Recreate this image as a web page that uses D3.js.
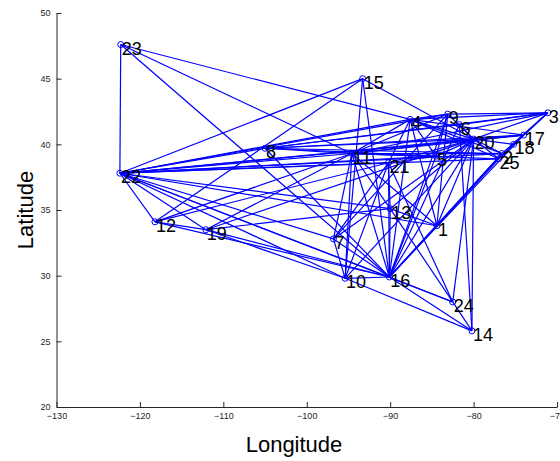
<!DOCTYPE html>
<html>
<head>
<meta charset="utf-8">
<script src="https://cdn.jsdelivr.net/npm/d3@7"></script>
<style>
  body { margin: 0; background: #ffffff; }
  svg { display: block; }
  text { font-family: "Liberation Sans", Arial, sans-serif; }
</style>
</head>
<body>
<svg id="chart" width="560" height="461"></svg>
<script>
// City nodes: label, longitude, latitude
const nodeLabels = ["1","2","3","4","5","6","7","8","9","10","11","12","13",
                    "14","15","16","17","18","19","20","21","22","23","24","25"];
const nodeLon = [-84.4, -76.6, -71.1, -87.6, -84.5, -81.7, -96.8, -105.0, -83.1, -95.4,
                 -94.6, -118.2, -90.0, -80.2, -93.3, -90.1, -74.0, -75.2, -112.1, -80.0,
                 -90.2, -122.4, -122.3, -82.5, -77.0];
const nodeLat = [33.8, 39.3, 42.4, 41.9, 39.1, 41.5, 32.8, 39.7, 42.3, 29.8,
                 39.3, 34.1, 35.1, 25.8, 45.0, 29.9, 40.7, 40.0, 33.5, 40.4,
                 38.6, 37.8, 47.6, 28.0, 38.9];

// Links between cities (1-based node numbers)
const edgeFrom = [23,23,23,23,
  22,22,22,22,22,22,22,22,22,22,22,22,22,22,22,22,22,22,22,
  12,12,12,12,12,
  19,19,19,19,19,
  8,8,8,8,8,8,8,8,
  15,15,15,
  11,11,11,11,11,11,11,11,11,11,11,11,11,
  7,7,7,7,7,
  10,10,10,10,
  16,16,16,16,16,16,16,16,16,16,16,16,16,
  13,13,13,13,
  1,1,1,1,1,
  24,24,24,
  14,14,
  4,4,4,4,4,4,4,4,
  9,9,9,
  6,6,
  20,20,20,20,20,20,20,
  17,17,2,21,18,3,3];
const edgeTo = [22,4,11,16,
  12,19,15,8,11,21,5,4,9,20,17,2,25,13,1,7,16,10,24,
  19,15,11,21,16,
  11,20,16,10,13,
  20,17,3,6,2,11,16,5,
  16,10,20,
  20,17,3,2,25,5,9,4,16,10,7,13,1,
  20,21,16,10,9,
  16,14,20,21,
  20,2,25,17,24,14,1,13,21,4,9,5,6,
  20,1,21,24,
  20,25,2,4,9,
  20,21,14,
  20,6,
  20,17,3,9,2,25,21,5,
  20,3,5,
  20,3,
  17,3,18,2,25,21,5,
  3,18,25,5,25,25,2];

const xTicks = [-130, -120, -110, -100, -90, -80, -70];
const yTicks = [20, 25, 30, 35, 40, 45, 50];

const blue = "#0000ff";
const axisColor = "#262626";

const svg = d3.select("#chart");

const x = d3.scaleLinear().domain([-130, -70]).range([56.5, 557]);
const y = d3.scaleLinear().domain([20, 50]).range([407, 13]);

const nodes = nodeLabels.map((label, i) => ({ label, lon: nodeLon[i], lat: nodeLat[i] }));
const links = edgeFrom.map((a, i) => ({ source: nodes[a - 1], target: nodes[edgeTo[i] - 1] }));

// Axes (left and bottom only, ticks pointing inward)
const xAxis = d3.axisBottom(x).tickValues(xTicks).tickFormat(d3.format("d"))
  .tickSizeInner(-5).tickSizeOuter(0).tickPadding(6);
const yAxis = d3.axisLeft(y).tickValues(yTicks).tickFormat(d3.format("d"))
  .tickSizeInner(-5).tickSizeOuter(0).tickPadding(6);

const gx = svg.append("g").attr("transform", `translate(0,${y(20)})`).call(xAxis);
const gy = svg.append("g").attr("transform", `translate(${x(-130)},0)`).call(yAxis);

[gx, gy].forEach(g => {
  g.select(".domain").attr("stroke", axisColor).attr("stroke-width", 1);
  g.selectAll(".tick line").attr("stroke", axisColor);
  g.selectAll(".tick text").attr("fill", axisColor)
    .style("font-family", "'Liberation Sans', Arial, sans-serif").style("font-size", "9px");
});

// Graph edges
svg.append("g")
  .selectAll("line")
  .data(links)
  .join("line")
  .attr("x1", d => x(d.source.lon))
  .attr("y1", d => y(d.source.lat))
  .attr("x2", d => x(d.target.lon))
  .attr("y2", d => y(d.target.lat))
  .attr("stroke", blue)
  .attr("stroke-width", 1.2);

// Node markers
svg.append("g")
  .selectAll("circle")
  .data(nodes)
  .join("circle")
  .attr("cx", d => x(d.lon))
  .attr("cy", d => y(d.lat))
  .attr("r", 3)
  .attr("fill", "none")
  .attr("stroke", blue)
  .attr("stroke-width", 1);

// Node numbers
svg.append("g")
  .selectAll("text")
  .data(nodes)
  .join("text")
  .attr("x", d => x(d.lon) + 1)
  .attr("y", d => y(d.lat) + 10)
  .attr("fill", "#000")
  .style("font-size", "18px")
  .text(d => d.label);

// Axis titles
svg.append("text")
  .attr("x", 294)
  .attr("y", 452)
  .attr("text-anchor", "middle")
  .attr("fill", "#000")
  .style("font-size", "22px")
  .text("Longitude");

svg.append("text")
  .attr("transform", `translate(33,${(y(20) + y(50)) / 2}) rotate(-90)`)
  .attr("text-anchor", "middle")
  .attr("fill", "#000")
  .style("font-size", "22px")
  .text("Latitude");
</script>
</body>
</html>
